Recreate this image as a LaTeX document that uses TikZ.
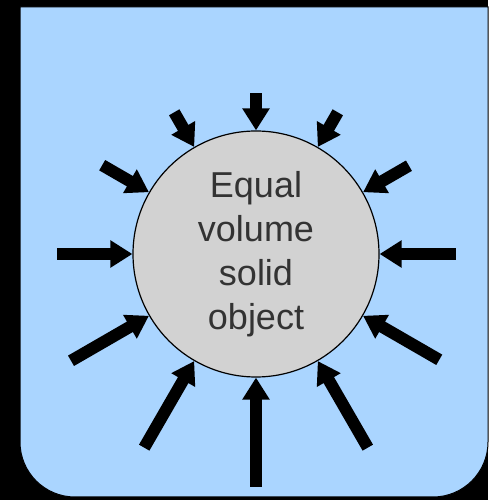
\documentclass[tikz,border=0pt]{standalone}
\usepackage{fontspec}
\setmainfont{Liberation Sans}
\usetikzlibrary{calc,arrows.meta}

\definecolor{water}{RGB}{170,213,255}
\definecolor{solid}{RGB}{210,210,210}
\definecolor{ink}{RGB}{51,51,51}

\tikzset{
  push/.style={line width=12pt,-{Triangle[length=22pt,width=26pt]}},
  body/.style={circle,draw,line width=1.2pt,fill=solid,minimum size=246pt,inner sep=0pt,
    align=center,text=ink,font=\fontsize{36}{44}\selectfont}
}

\begin{document}
\begin{tikzpicture}[x=1pt,y=1pt]
  \fill[black] (0,0) rectangle (488,500);

  % the vessel of water
  \draw[fill=water,line width=1pt] (20,493) -- (20,58)
    arc[start angle=180,end angle=270,radius=55] -- (433,3)
    arc[start angle=270,end angle=360,radius=55] -- (488,493) -- cycle;

  \node[body] (obj) at (256,246) {Equal\\volume\\solid\\object};

  \coordinate (T0) at ($(obj.0)+(0:76)$);
  \coordinate (T30) at ($(obj.30)+(30:53)$);
  \coordinate (T60) at ($(obj.60)+(60:40)$);
  \coordinate (T90) at ($(obj.90)+(90:37)$);
  \coordinate (T120) at ($(obj.120)+(120:40)$);
  \coordinate (T150) at ($(obj.150)+(150:54)$);
  \coordinate (T180) at ($(obj.180)+(180:75)$);
  \coordinate (T210) at ($(obj.210)+(210:90)$);
  \coordinate (T240) at ($(obj.240)+(240:100)$);
  \coordinate (T270) at ($(obj.270)+(270:109)$);
  \coordinate (T300) at ($(obj.300)+(300:100)$);
  \coordinate (T330) at ($(obj.330)+(330:88)$);

  \draw[push] (T0) -- (obj.0);
  \draw[push] (T30) -- (obj.30);
  \draw[push] (T60) -- (obj.60);
  \draw[push] (T90) -- (obj.90);
  \draw[push] (T120) -- (obj.120);
  \draw[push] (T150) -- (obj.150);
  \draw[push] (T180) -- (obj.180);
  \draw[push] (T210) -- (obj.210);
  \draw[push] (T240) -- (obj.240);
  \draw[push] (T270) -- (obj.270);
  \draw[push] (T300) -- (obj.300);
  \draw[push] (T330) -- (obj.330);
\end{tikzpicture}
\end{document}
